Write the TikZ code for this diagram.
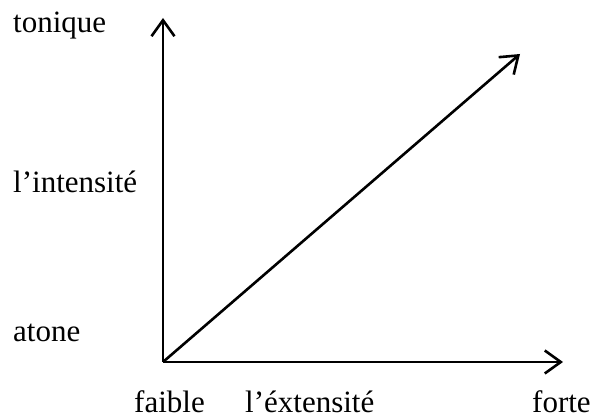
\documentclass[tikz,border=0pt]{standalone}
\usepackage{fontspec}
\setmainfont{Liberation Serif}
\usetikzlibrary{arrows.meta}
\begin{document}
\begin{tikzpicture}[x=1pt,y=1pt,
  axis/.style={line width=2.6pt,-{Straight Barb[length=16pt,width=23pt,line width=2.6pt]}},
  lbl/.style={anchor=base west,inner sep=0pt,font=\fontsize{31}{36}\selectfont}]
\useasboundingbox (0,0) rectangle (595,419);
\coordinate (O) at (163,57);
\coordinate (Ytip) at (163,401);
\coordinate (Xtip) at (563,57);
\coordinate (Dtip) at (520,365);
\draw[axis] (O) -- (Ytip);
\draw[axis] (O) -- (Xtip);
\draw[axis] (O) -- (Dtip);
\node[lbl] (tonique) at (13,386) {tonique};
\node[lbl] (intensite) at (13,226) {l’intensité};
\node[lbl] (atone) at (13,77) {atone};
\node[lbl] (faible) at (134,6) {faible};
\node[lbl] (extensite) at (245,6) {l’éxtensité};
\node[lbl] (forte) at (532,6) {forte};
\end{tikzpicture}
\end{document}
